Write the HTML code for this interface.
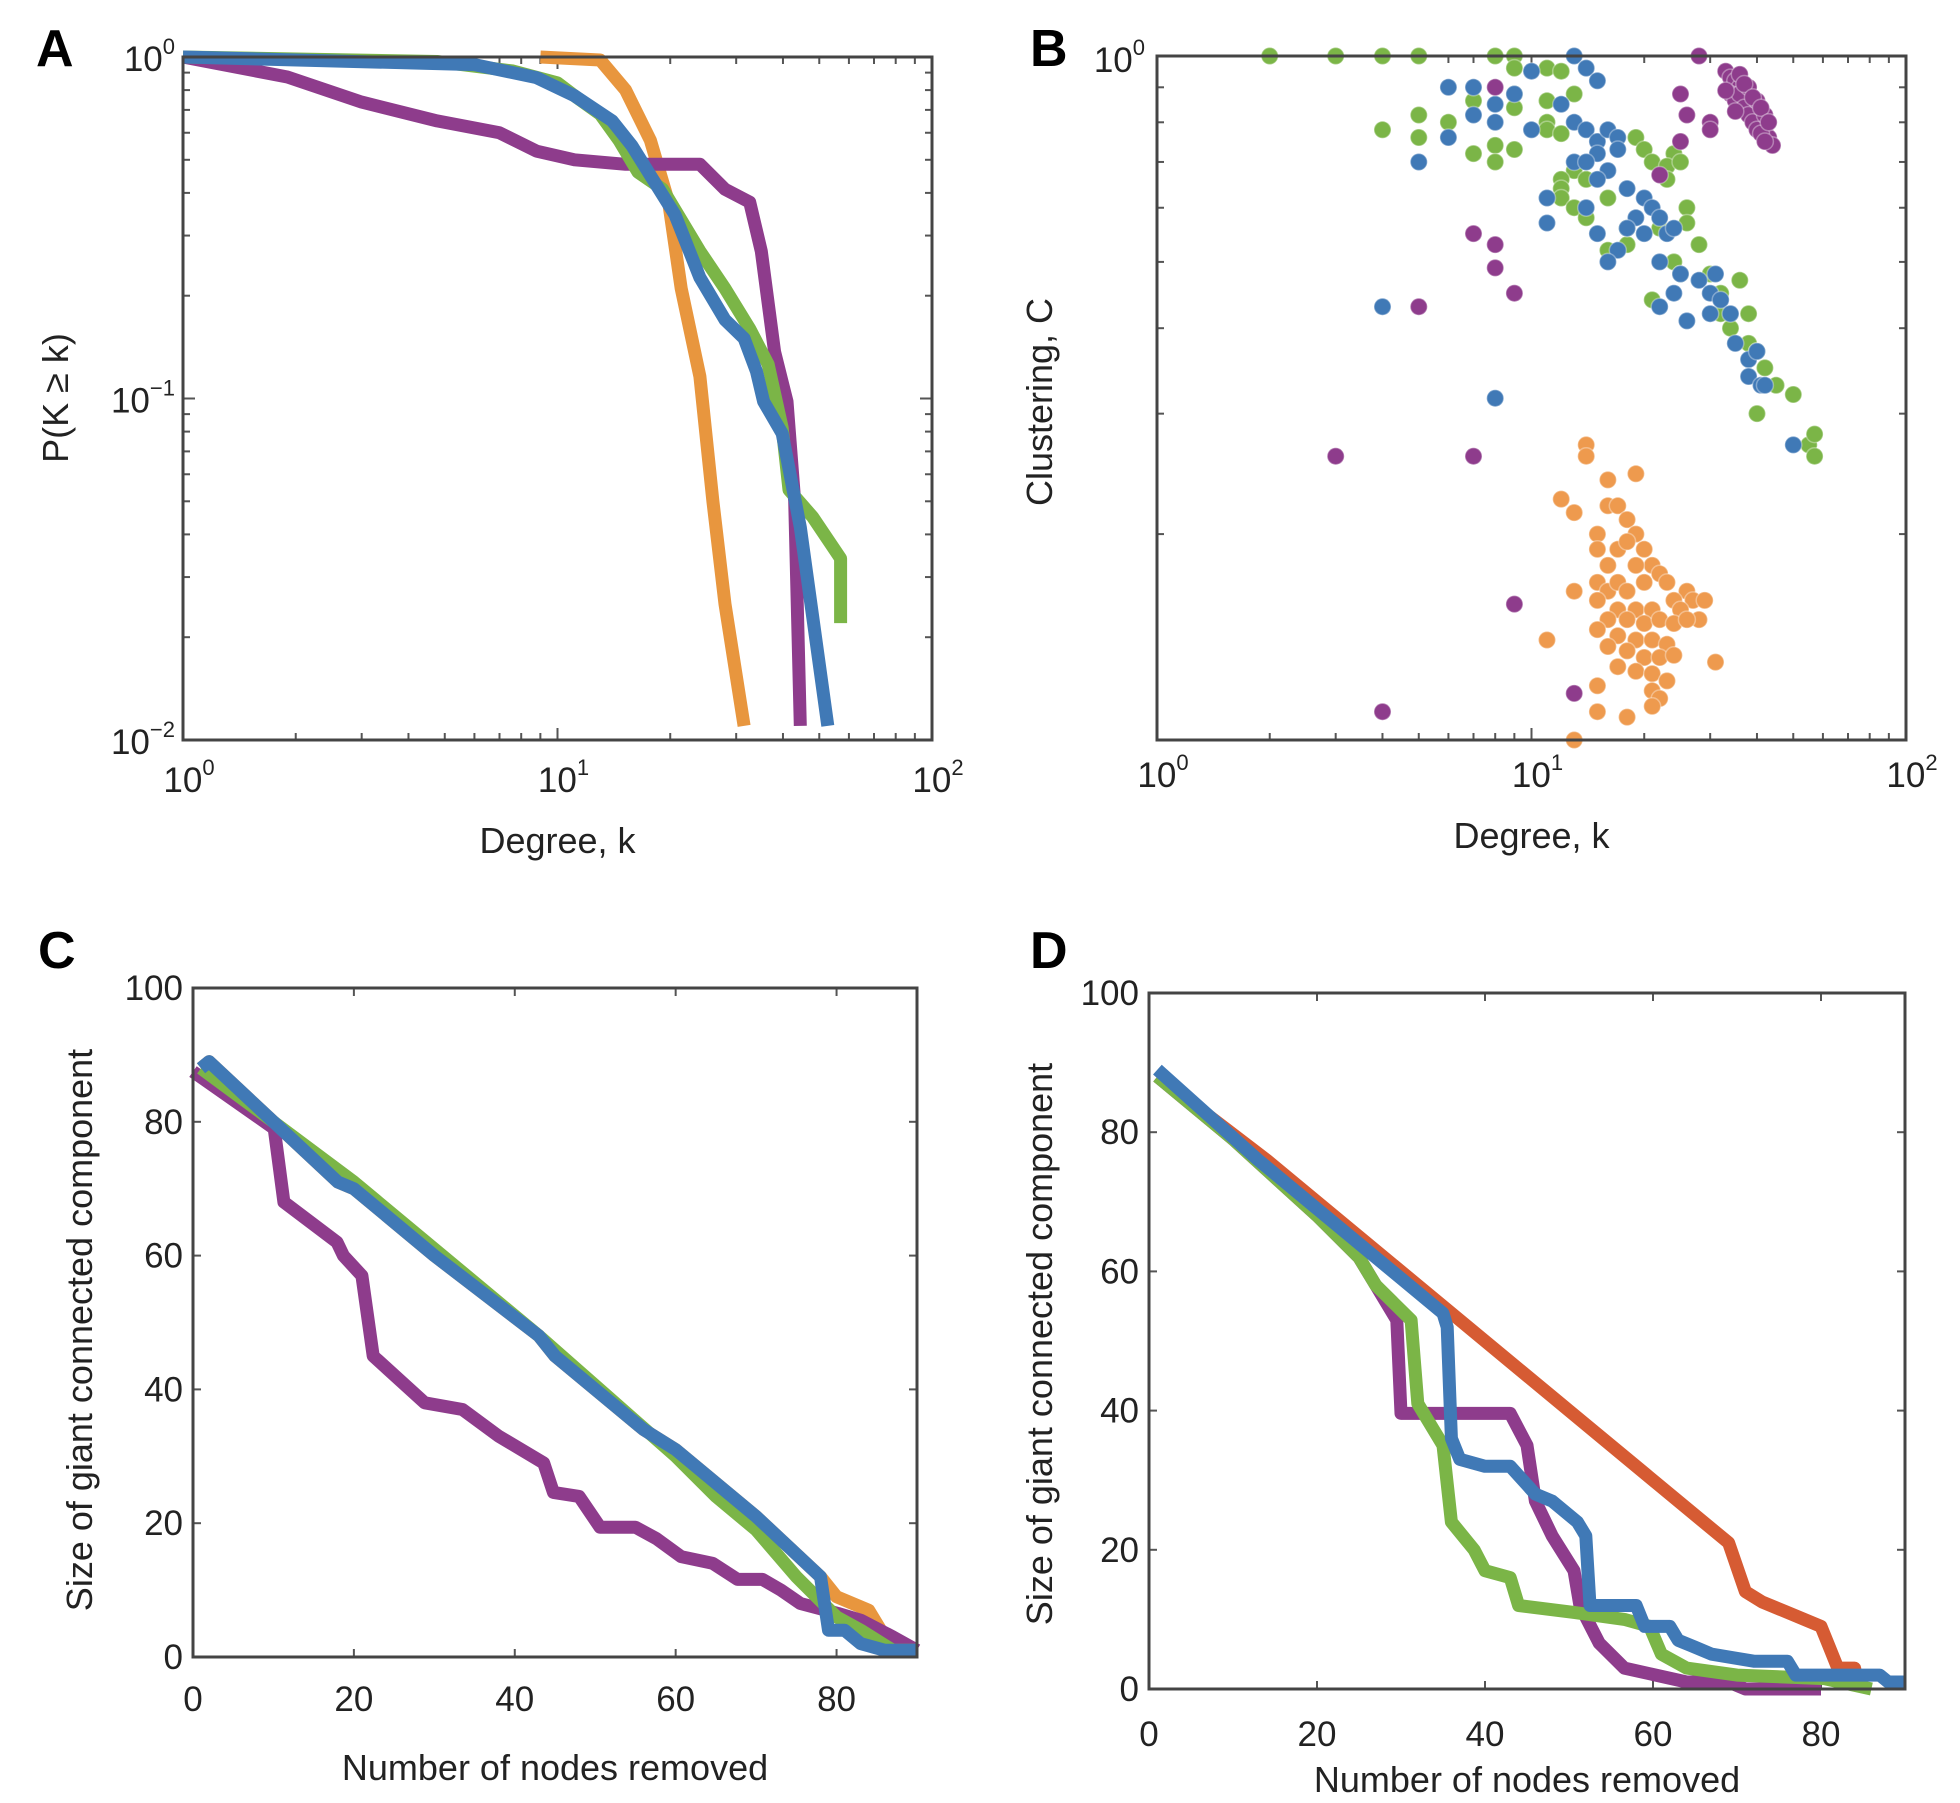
<!DOCTYPE html>
<html><head><meta charset="utf-8"><style>
html,body{margin:0;padding:0;background:#fff;}
svg{display:block;font-family:"Liberation Sans",sans-serif;}
</style></head><body>
<svg id="fig" width="1960" height="1803" viewBox="0 0 1960 1803" xmlns="http://www.w3.org/2000/svg">
<rect width="1960" height="1803" fill="#fff"/>
</svg>
<script>
// ---------- Panel A data: cumulative degree distribution ----------
const aOrangeK=[9,13,15.2,17.7,19.8,21.4,24,26,28,31.5];
const aOrangeP=[1,0.98,0.80,0.57,0.376,0.21,0.116,0.05,0.025,0.011];
const aPurpleK=[1,1.9,3,4.77,7,8.8,11.1,15.2,24,28,32.6,35,38,41,43,44.5];
const aPurpleP=[1,0.874,0.738,0.65,0.6,0.53,0.5,0.485,0.485,0.41,0.376,0.27,0.137,0.098,0.05,0.011];
const aGreenK=[1,4.77,7.6,10,11.1,13,14.6,16.4,19.1,24,28,32.6,36.5,39.8,41.5,48,57,57];
const aGreenP=[1,0.97,0.91,0.84,0.77,0.68,0.57,0.46,0.41,0.27,0.21,0.16,0.126,0.082,0.054,0.045,0.034,0.022];
const aBlueK=[1,6,8.8,11.1,14,15.8,17.7,20.6,24,28,31.5,34,35.5,39.8,44.5,52.7];
const aBlueP=[1,0.95,0.87,0.77,0.65,0.55,0.45,0.345,0.226,0.17,0.15,0.12,0.098,0.079,0.042,0.011];
const logTickLabelsA=["0","1","2"];
const logTickLabelsAY=["0","\u22121","\u22122"];

// ---------- Panel B data: clustering vs degree ----------
const bGreenK=[2,3,4,5,8,9,9,11,12,9,9,11,7,13,5,6,4,5,11,11,12,8,9,7,8,13,14,12,12,12,16,19,20,21,24,23,25,23,26,22,26,18,24,25,30,32,36,38,32,34,38,40,42,45,40,50,55,57,57,13,14,18,21,16,28];
const bGreenC=[1,1,1,1,1,1,.96,.96,.95,.88,.84,.86,.86,.88,.82,.8,.78,.76,.8,.78,.77,.74,.73,.72,.7,.68,.66,.66,.64,.62,.62,.76,.73,.7,.72,.69,.7,.66,.6,.56,.57,.53,.5,.48,.48,.45,.47,.42,.42,.4,.38,.37,.35,.33,.3,.32,.27,.26,.28,.6,.58,.56,.44,.52,.53];
const bBlueK=[7,10,13,14,15,6,8,9,7,8,10,6,5,12,13,14,15,16,17,15,17,13,14,16,15,18,20,21,22,23,19,20,24,11,11,14,15,17,18,16,22,25,28,30,32,30,34,31,24,22,26,35,38,40,38,41,42,50,4,8];
const bBlueC=[.9,.95,1,.96,.92,.9,.85,.88,.82,.8,.78,.76,.7,.85,.8,.78,.75,.78,.76,.72,.73,.7,.7,.68,.66,.64,.62,.6,.58,.55,.58,.55,.56,.62,.57,.6,.55,.52,.56,.5,.5,.48,.47,.45,.44,.42,.42,.48,.45,.43,.41,.38,.36,.37,.34,.33,.33,.27,.43,.316];
const bPurpleK=[28,33,34,35,36,37,38,39,40,41,42,43,44,34,35,36,37,38,39,40,41,42,36,38,40,42,35,37,39,41,43,33,25,26,30,30,25,22,8,7,8,8,9,5,3,7,9,13,4];
const bPurpleC=[1,.95,.93,.92,.9,.88,.86,.84,.82,.8,.78,.76,.74,.88,.86,.88,.84,.82,.8,.78,.77,.75,.94,.9,.86,.82,.83,.91,.87,.84,.8,.89,.88,.82,.8,.78,.75,.67,.9,.55,.53,.49,.45,.43,.26,.26,.158,.117,.11];
const bOrangeK=[14,14,16,19,12,13,16,17,18,19,15,15,17,18,20,21,16,19,22,20,23,15,16,17,18,13,26,24,27,29,15,17,19,21,25,28,16,18,20,22,24,26,15,17,19,21,23,11,16,18,20,22,24,31,17,19,21,23,15,21,22,15,18,21,13];
const bOrangeC=[.27,.26,.24,.245,.225,.215,.22,.22,.21,.2,.2,.19,.19,.195,.19,.18,.18,.18,.175,.17,.17,.17,.165,.17,.165,.165,.165,.16,.16,.16,.16,.155,.155,.155,.155,.15,.15,.15,.148,.15,.148,.15,.145,.142,.14,.14,.138,.14,.137,.135,.132,.132,.133,.13,.128,.126,.125,.122,.12,.118,.115,.11,.108,.112,.1];

// ---------- Panel C data: random removal ----------
const cOrangeX=[1,2,10,18,20,30,43,45,56,60,70,78,80,84,86,88,90];
const cOrangeY=[88,89,80,71,70,60,48,45,34,31,21,12,9,7,3,1,1];
const cPurpleX=[0,10.1,11.3,17.9,18.7,21,22.4,28.8,33.5,38,43.6,44.8,48,50.6,55,57.6,60.7,64.6,67.7,70.8,73.1,75.5,80.2,83,87,90];
const cPurpleY=[87.5,79,68,62,60,57,45,38,37,33,29,24.6,24,19.4,19.4,17.7,15,14,11.6,11.6,10,8,6.5,5.5,3,1];
const cGreenX=[1,10,20,43,60,65,70,75,80,83,87,90];
const cGreenY=[88,80,71,48,30,24,19,12,6,4,1,1];
const cBlueX=[1,2,10,18,20,30,43,45,56,60,70,78,79,81,83,86,90];
const cBlueY=[88,89,80,71,70,60,48,45,34,31,21,12,4,4,2,1,1];

// ---------- Panel D data: targeted removal ----------
const dRedX=[1,14,30,50,65,69,71,73,76,78,80,81,82,84,84.5];
const dRedY=[88,76,60,40,25,21,14,12.5,11,10,9,6,3,3,0];
const dPurpleX=[1,10,20,25,27,29.5,30,43,45,46,48,50.6,51.3,53.6,56.6,64,69,71,80];
const dPurpleY=[88,79,68,62,58,53,39.6,39.6,35,27,22,17,12,6.6,3,1,1,0,0];
const dGreenX=[1,10,20,25,27,31.2,32,35,36,38.7,40,43,44,50.6,56.6,59.6,61,64,70,80.4,86];
const dGreenY=[88,79,68,62,58,53,41,35,24,20,17,16,12,11,10,9,5,3,2,1.5,0];
const dBlueX=[1,13,30,35,35.5,36,37,40,43,46,48,51,52,52.5,58,59,62,63,65,67,72,76,77,87,88,90];
const dBlueY=[89,76,59,54,52,36,33,32,32,28,27,24,22,12,12,9,9,7,6,5,4,4,2,2,1,1];
const linTickLabelsX=["0","20","40","60","80"];
const linTickLabelsY=["0","20","40","60","80","100"];

const NS="http://www.w3.org/2000/svg";
const svg=document.getElementById('fig');
const COL={orange:"#E8963E",purple:"#8E3C8C",green:"#7BB547",blue:"#4079B6",red:"#D65B33"};
function mk(tag,attrs,parent){const e=document.createElementNS(NS,tag);for(const k in attrs)e.setAttribute(k,attrs[k]);(parent||svg).appendChild(e);return e;}

function logScale(d0,d1,p0,p1){return v=>p0+(Math.log10(v)-Math.log10(d0))/(Math.log10(d1)-Math.log10(d0))*(p1-p0);}
function linScale(d0,d1,p0,p1){return v=>p0+(v-d0)/(d1-d0)*(p1-p0);}

function frame(g,L,T,R,B){
  const r=mk('rect',{x:L,y:T,width:R-L,height:B-T,fill:'none',stroke:'#444','stroke-width':3},g);
  
  
}
function tick(g,x1,y1,x2,y2){mk('line',{x1,y1,x2,y2,stroke:'#555','stroke-width':2},g);}
function text(g,str,x,y,size,anchor,name,extra){
  const t=mk('text',Object.assign({x,y,'font-size':size,'text-anchor':anchor,fill:'#222'},extra||{}),g);
  t.textContent=str;
  
  
  return t;
}
function powLabel(g,exp,x,y,anchor,name){
  const t=mk('text',{x,y,'font-size':35,'text-anchor':anchor,fill:'#222'},g);
  
  
  const a=mk('tspan',{},t);a.textContent='10';
  const b=mk('tspan',{dy:-17,'font-size':22},t);b.textContent=exp;
}
function line(g,xs,ys,sx,sy,color,name){
  let d='';xs.forEach((v,i)=>{d+=(i?'L':'M')+sx(v).toFixed(1)+','+sy(ys[i]).toFixed(1);});
  const p=mk('path',{d,fill:'none',stroke:color,'stroke-width':13,'stroke-linejoin':'round','stroke-linecap':'butt'},g);
  
  
}
function panelLetter(ch,x,y){
  const t=mk('text',{x,y,'font-size':52,'font-weight':'bold',fill:'#000'});
  t.textContent=ch;
  
  
}
function logMinor(g,L,T,R,B,sx,isX,d0,d1){
  for(let dec=Math.log10(d0);dec<Math.log10(d1);dec++){
    for(let m=1;m<10;m++){
      const v=m*Math.pow(10,dec);const p=sx(v);const len=m===1?12:7;
      if(isX){tick(g,p,B,p,B-len);tick(g,p,T,p,T+len);}
      else{tick(g,L,p,L+len,p);tick(g,R,p,R-len,p);}
    }
  }
}

// ===== Panel A =====
(function(){
  const g=mk('g',{});
  
  
  const L=183,T=57,R=932,B=740;
  const sx=logScale(1,100,L,R), sy=logScale(1,0.01,T,B);
  logMinor(g,L,T,R,B,sx,true,1,100);
  logMinor(g,L,T,R,B,sy,false,0.01,1);
  line(g,aOrangeK,aOrangeP,sx,sy,COL.orange,'series-a-orange');
  line(g,aPurpleK,aPurpleP,sx,sy,COL.purple,'series-a-purple');
  line(g,aGreenK,aGreenP,sx,sy,COL.green,'series-a-green');
  line(g,aBlueK,aBlueP,sx,sy,COL.blue,'series-a-blue');
  frame(g,L,T,R,B);
  [1,10,100].forEach((v,i)=>powLabel(g,logTickLabelsA[i],sx(v)+6,792,'middle','x-tick-label'));
  [1,0.1,0.01].forEach((v,i)=>powLabel(g,logTickLabelsAY[i],L-8,sy(v)+14,'end','y-tick-label'));
  text(g,'Degree, k',(L+R)/2,853,36,'middle','x-axis-title');
  text(g,'P(K \u2265 k)',0,0,36,'middle','y-axis-title',{transform:'translate(68,398) rotate(-90)'});
  panelLetter('A',36,66);
})();

// ===== Panel B =====
(function(){
  const g=mk('g',{});
  
  
  const L=1157,T=56,R=1906,B=740;
  const sx=logScale(1,100,L,R), sy=logScale(1,0.1,T,B);
  logMinor(g,L,T,R,B,sx,true,1,100);
  [0.9,0.8,0.7,0.6,0.5,0.4,0.3,0.2].forEach(v=>{tick(g,L,sy(v),L+7,sy(v));tick(g,R,sy(v),R-7,sy(v));});
  function pts(ks,cs,color,name){
    ks.forEach((k,i)=>{
      const c=mk('circle',{cx:sx(k).toFixed(1),cy:sy(cs[i]).toFixed(1),r:8.5,fill:color,stroke:'#fff','stroke-opacity':0.35,'stroke-width':1.5},g);
      
      
    });
  }
  pts(bGreenK,bGreenC,COL.green,'point-green');
  pts(bBlueK,bBlueC,COL.blue,'point-blue');
  pts(bPurpleK,bPurpleC,COL.purple,'point-purple');
  pts(bOrangeK,bOrangeC,'#EE9A4E','point-orange');
  frame(g,L,T,R,B);
  [1,10,100].forEach((v,i)=>powLabel(g,logTickLabelsA[i],sx(v)+6,787,'middle','x-tick-label'));
  powLabel(g,'0',L-12,72,'end','y-tick-label');
  text(g,'Degree, k',(L+R)/2,848,36,'middle','x-axis-title');
  text(g,'Clustering, C',0,0,36,'middle','y-axis-title',{transform:'translate(1052,402) rotate(-90)'});
  panelLetter('B',1030,66);
})();

// ===== Linear panels =====
function linPanel(id,L,T,R,B,series,titleY,tickY,ytX,ytY,letter,lx,ly){
  const g=mk('g',{});
  
  
  const sx=linScale(0,90,L,R), sy=linScale(0,100,B,T);
  [0,20,40,60,80].forEach(v=>{tick(g,sx(v),B,sx(v),B-8);tick(g,sx(v),T,sx(v),T+8);});
  [0,20,40,60,80,100].forEach(v=>{tick(g,L,sy(v),L+8,sy(v));tick(g,R,sy(v),R-8,sy(v));});
  series.forEach(s=>line(g,s[0],s[1],sx,sy,s[2],s[3]));
  frame(g,L,T,R,B);
  [0,20,40,60,80].forEach((v,i)=>text(g,linTickLabelsX[i],sx(v),tickY,35,'middle','x-tick-label'));
  [0,20,40,60,80,100].forEach((v,i)=>text(g,linTickLabelsY[i],L-10,sy(v)+12,35,'end','y-tick-label'));
  text(g,'Number of nodes removed',(L+R)/2,titleY,36,'middle','x-axis-title');
  text(g,'Size of giant connected component',0,0,36,'middle','y-axis-title',{transform:'translate('+ytX+','+ytY+') rotate(-90)'});
  panelLetter(letter,lx,ly);
}
linPanel('panel-c-random-removal',193,988,917,1657,[
  [cOrangeX,cOrangeY,COL.orange,'series-c-orange'],
  [cPurpleX,cPurpleY,COL.purple,'series-c-purple'],
  [cGreenX,cGreenY,COL.green,'series-c-green'],
  [cBlueX,cBlueY,COL.blue,'series-c-blue']],1780,1711,92,1330,'C',38,968);
linPanel('panel-d-targeted-removal',1149,993,1905,1689,[
  [dRedX,dRedY,COL.red,'series-d-red'],
  [dPurpleX,dPurpleY,COL.purple,'series-d-purple'],
  [dGreenX,dGreenY,COL.green,'series-d-green'],
  [dBlueX,dBlueY,COL.blue,'series-d-blue']],1792,1746,1052,1344,'D',1030,968);
</script>
</body></html>
